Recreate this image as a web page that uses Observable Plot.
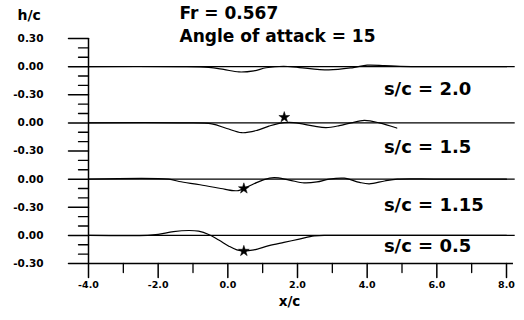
<!DOCTYPE html>
<html><head><meta charset="utf-8">
<script src="https://cdn.jsdelivr.net/npm/d3@7"></script>
<script src="https://cdn.jsdelivr.net/npm/@observablehq/plot@0.6"></script>
<style>
html,body{margin:0;padding:0;background:#fff;}
#chart{width:524px;height:320px;}
</style></head><body><div id="chart"></div>
<script>
// Profiles (stacked), zero-level offsets in the stacked coordinate
const profiles = ["s/c = 2.0", "s/c = 1.5", "s/c = 1.15", "s/c = 0.5"];
const offsets  = [1.8, 1.2, 0.6, 0.0];

// wave elevation h/c vs x/c
const x_sc20 = [-4, -1.4, -0.55, -0.12, 0.32, 0.75, 1.1, 1.6, 2.05, 2.9, 3.6, 4.0, 4.5, 4.95, 6.0, 8.0];
const h_sc20 = [0, 0, -0.008, -0.03, -0.057, -0.045, -0.012, 0.004, -0.01, -0.035, -0.01, 0.015, 0.01, 0.003, 0, 0];

const x_sc15 = [-4, -1.4, -0.46, -0.03, 0.40, 0.84, 1.18, 1.47, 1.76, 2.05, 2.48, 2.82, 3.2, 3.54, 3.92, 4.35, 4.85];
const h_sc15 = [0, 0, -0.01, -0.06, -0.105, -0.08, -0.035, -0.005, 0.005, -0.005, -0.035, -0.05, -0.03, 0, 0.026, 0, -0.055];

const x_sc115 = [-4, -1.7, -1.4, -0.8, -0.2, 0.15, 0.3, 0.46, 0.75, 1.04, 1.33, 1.76, 2.19, 2.56, 2.91, 3.34, 3.78, 4.06, 4.5, 4.87, 6, 8];
const h_sc115 = [0, 0, -0.025, -0.06, -0.1, -0.123, -0.122, -0.1, -0.05, -0.005, 0.015, -0.01, -0.04, -0.03, 0, 0.01, -0.035, -0.05, -0.02, 0, 0, 0];

const x_sc05 = [-4, -2.3, -2.0, -1.56, -1.12, -0.84, -0.55, -0.26, 0.03, 0.26, 0.46, 0.75, 1.18, 1.61, 2.05, 2.48, 2.9, 4, 6, 8];
const h_sc05 = [0, 0, 0.01, 0.04, 0.052, 0.045, 0.01, -0.05, -0.115, -0.155, -0.167, -0.155, -0.11, -0.075, -0.04, -0.005, 0, 0, 0, 0];

// star markers
const starProfile = ["s/c = 1.5", "s/c = 1.15", "s/c = 0.5"];
const starX = [1.62, 0.46, 0.46];
const starH = [0.06, -0.1, -0.167];

// s/c annotation anchors (x/c, h/c relative to each profile's zero)
const labelX = [4.48, 4.48, 4.48, 4.48];
const labelH = [-0.245, -0.26, -0.28, -0.118];

// axis ticks
const yTickValues = [-0.3, 0, 0.3, 0.6, 0.9, 1.2, 1.5, 1.8, 2.1];
const yTickLabels = ["-0.30", "0.00", "-0.30", "0.00", "-0.30", "0.00", "-0.30", "0.00", "0.30"];
const yMinorTicks = [-0.2,-0.1,0.1,0.2,0.4,0.5,0.7,0.8,1.0,1.1,1.3,1.4,1.6,1.7,1.9,2.0];
const xTickValues = [-4, -2, 0, 2, 4, 6, 8];
const xMinorTicks = [-3, -1, 1, 3, 5, 7];
const xDomain = [-4, 8];
const zeroLineExtent = [-4, 8.25];

const title1 = "Fr = 0.567";
const title2 = "Angle of attack = 15";

// build tables
const series = [[x_sc20,h_sc20],[x_sc15,h_sc15],[x_sc115,h_sc115],[x_sc05,h_sc05]];
const curves = series.flatMap(([xs, hs], k) => xs.map((x, i) => ({profile: profiles[k], x, y: hs[i] + offsets[k]})));
const stars = starProfile.map((p, i) => ({x: starX[i], y: starH[i] + offsets[profiles.indexOf(p)]}));
const labels = profiles.map((p, i) => ({text: p, x: labelX[i], y: labelH[i] + offsets[i]}));
const zeros = offsets.map(o => ({y: o}));

const font = "'DejaVu Sans', Verdana, sans-serif";
const yLo = yTickValues[0], yHi = yTickValues[yTickValues.length - 1];

// straight tick shape for vectors
const tickShape = {draw(context, l) { context.moveTo(0, 0); context.lineTo(0, -l); }};

const chart = Plot.plot({
  width: 524,
  height: 320,
  marginLeft: 88,
  marginRight: 18,
  marginTop: 38,
  marginBottom: 57,
  style: {fontFamily: font, fontWeight: "bold", background: "white", color: "black"},
  x: {domain: xDomain},
  y: {domain: [yLo, yHi]},
  marks: [
    // y axis labels (ticks drawn below)
    Plot.axisY(yTickValues, {tickSize: 0, tickPadding: 45, fontSize: 10.5, fontWeight: "bold",
      tickFormat: d => yTickLabels[yTickValues.indexOf(d)], label: null}),
    // x axis labels
    Plot.axisX(xTickValues, {tickSize: 0, tickPadding: 18, fontSize: 9.5, fontWeight: "bold",
      tickFormat: d => d.toFixed(1), label: null}),
    // ticks
    Plot.vector(yTickValues, {x: xDomain[0], y: d => d, length: 20, rotate: -90, anchor: "start", shape: tickShape, stroke: "black", strokeWidth: 1.5}),
    Plot.vector(yMinorTicks, {x: xDomain[0], y: d => d, length: 10, rotate: -90, anchor: "start", shape: tickShape, stroke: "black", strokeWidth: 1.3}),
    Plot.vector(xTickValues, {x: d => d, y: yLo, length: 14, rotate: 180, anchor: "start", shape: tickShape, stroke: "black", strokeWidth: 1.5}),
    Plot.vector(xMinorTicks, {x: d => d, y: yLo, length: 9, rotate: 180, anchor: "start", shape: tickShape, stroke: "black", strokeWidth: 1.3}),
    // axis lines
    Plot.ruleX([xDomain[0]], {y1: yLo, y2: yHi, strokeWidth: 1.5}),
    Plot.ruleY([yLo], {x1: xDomain[0], x2: zeroLineExtent[1] - 0.05, strokeWidth: 1.5}),
    // zero reference lines
    Plot.ruleY(zeros, {y: "y", x1: zeroLineExtent[0], x2: zeroLineExtent[1], strokeWidth: 1.3}),
    // wave profiles
    Plot.line(curves, {x: "x", y: "y", z: "profile", curve: "catmull-rom", stroke: "black", strokeWidth: 1.2}),
    Plot.dot(stars, {x: "x", y: "y", symbol: "star", r: 3.4, fill: "black", stroke: "black", strokeWidth: 0.5}),
    // annotations
    Plot.text(labels, {x: "x", y: "y", text: "text", textAnchor: "start", fontSize: 18, fontWeight: "bold"}),
    Plot.text([title1], {frameAnchor: "top-left", dx: 91, dy: -25, lineAnchor: "middle", textAnchor: "start", fontSize: 17, fontWeight: "bold"}),
    Plot.text([title2], {frameAnchor: "top-left", dx: 91, dy: -2, lineAnchor: "middle", textAnchor: "start", fontSize: 17, fontWeight: "bold"}),
    Plot.text(["h/c"], {frameAnchor: "top-left", dx: -71, dy: -23, lineAnchor: "middle", textAnchor: "start", fontSize: 14, fontWeight: "bold"}),
    Plot.text(["x/c"], {frameAnchor: "bottom", dx: -8, dy: 38, lineAnchor: "middle", fontSize: 13.5, fontWeight: "bold"})
  ]
});
document.getElementById("chart").appendChild(chart);
</script>
</body></html>
